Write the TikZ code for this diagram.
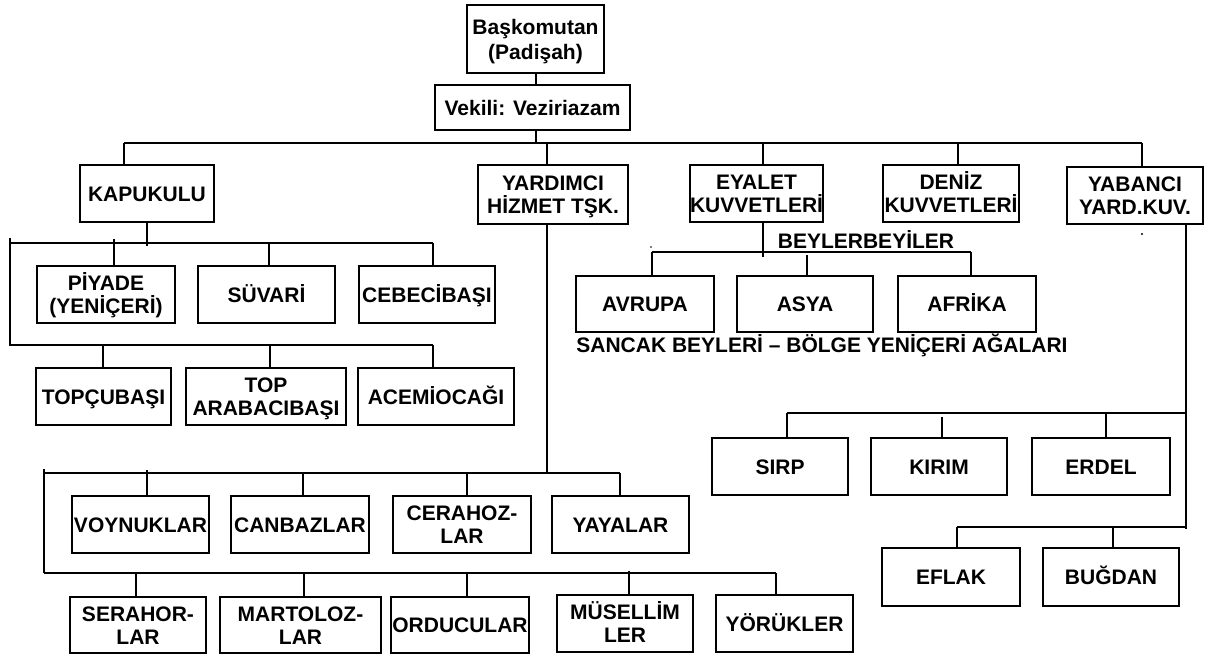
\documentclass[tikz,border=0pt]{standalone}
\usepackage{fontspec}
\setmainfont{Liberation Sans}
\newcommand\mkdrop[4]{\coordinate (#1) at (#2,#3); \draw[ln] (#1) -- (#4.north -| #1);}
\newcommand\one[1]{\rule{0pt}{15pt}\smash{#1}}
\newcommand\two[3][8]{\vbox{\offinterlineskip\halign{\hfil##\hfil\cr\one{#2}\cr\noalign{\vskip #1pt}\one{#3}\cr}}}
\begin{document}
\begin{tikzpicture}[x=1pt,y=-1pt,
  ln/.style={line width=1.5pt},
  bx/.style={draw, line width=1.5pt, inner sep=0pt,
    font=\bfseries\fontsize{21}{23}\selectfont},
  lbl/.style={inner sep=0pt, font=\bfseries\fontsize{21}{23}\selectfont}]
\fill[white] (0,0) rectangle (1213,657);
\useasboundingbox (0,0) rectangle (1213,657);

% top
\node[bx, minimum width=137pt, minimum height=68pt] (bask) at (535.5,39) {\two[10]{Başkomutan}{(Padişah)}};
\node[bx, minimum width=195pt, minimum height=45pt] (vek) at (532.5,107.5) {\one{Vekili: Veziriazam}};
\coordinate (v0) at (536,0);
\draw[ln] (bask.south -| v0) -- (vek.north -| v0);
\coordinate (v1) at (536,143);
\draw[ln] (vek.south -| v1) -- (v1);

% second row
\node[bx, minimum width=134pt, minimum height=57pt] (kapu) at (147,193.5) {\one{KAPUKULU}};
\node[bx, minimum width=150pt, minimum height=59pt] (yard) at (553,194.5) {\two{YARDIMCI}{HİZMET TŞK.}};
\node[bx, minimum width=133pt, minimum height=57pt] (eyal) at (756.5,193.5) {\two{EYALET}{KUVVETLERİ}};
\node[bx, minimum width=136pt, minimum height=57pt] (deniz) at (951,193.5) {\two{DENİZ}{KUVVETLERİ}};
\node[bx, minimum width=136pt, minimum height=57pt] (yab) at (1135,195.5) {\two{YABANCI}{YARD.KUV.}};
\mkdrop{d1}{124}{143}{kapu}
\mkdrop{d2}{547}{143}{yard}
\mkdrop{d3}{763}{143}{eyal}
\mkdrop{d4}{958}{143}{deniz}
\mkdrop{d5}{1142}{143}{yab}
\draw[ln] (d1) -- (d5);

% KAPUKULU subtree
\node[bx, minimum width=138pt, minimum height=57pt] (piy) at (106,294.5) {\two{PİYADE}{(YENİÇERİ)}};
\node[bx, minimum width=137pt, minimum height=57pt] (suv) at (266.5,294.5) {\one{SÜVARİ}};
\node[bx, minimum width=136pt, minimum height=57pt] (ceb) at (427,294.5) {\one{CEBECİBAŞI}};
\node[bx, minimum width=135pt, minimum height=57pt] (topc) at (103.5,396.5) {\one{TOPÇUBAŞI}};
\node[bx, minimum width=160pt, minimum height=57pt] (topa) at (266,396.5) {\two{TOP}{ARABACIBAŞI}};
\node[bx, minimum width=156pt, minimum height=57pt] (acem) at (436,396.5) {\one{ACEMİOCAĞI}};
\coordinate (k0) at (147,246);
\draw[ln] (kapu.south -| k0) -- (k0);
\coordinate (kL) at (10,243); \coordinate (kR) at (433,243);
\coordinate (kLt) at (10,238); \coordinate (kL2) at (10,345); \coordinate (kR2) at (433,345);
\draw[ln] (kL) -- (kR);
\draw[ln] (kLt) -- (kL2) -- (kR2);
\mkdrop{p1}{114}{239}{piy}
\mkdrop{p2}{269}{243}{suv}
\mkdrop{p3}{433}{243}{ceb}
\mkdrop{q1}{103}{345}{topc}
\mkdrop{q2}{270}{345}{topa}
\mkdrop{q3}{433}{345}{acem}

% EYALET subtree
\node[lbl] (beyl) at (866,241) {\one{BEYLERBEYİLER}};
\node[bx, minimum width=138pt, minimum height=56pt] (avr) at (645,304) {\one{AVRUPA}};
\node[bx, minimum width=136pt, minimum height=56pt] (asya) at (805,304) {\one{ASYA}};
\node[bx, minimum width=138pt, minimum height=56pt] (afr) at (967,304) {\one{AFRİKA}};
\node[lbl] (sanc) at (822,345) {\one{SANCAK BEYLERİ – BÖLGE YENİÇERİ AĞALARI}};
\coordinate (e0) at (763,257);
\draw[ln] (eyal.south -| e0) -- (e0);
\mkdrop{a1}{652}{252}{avr}
\mkdrop{a2}{807}{255}{asya}
\mkdrop{a3}{971}{252}{afr}
\draw[ln] (a1) -- (a3);
\fill (1142,234) circle (1.2pt);
\fill (651,247) circle (0.9pt);

% YABANCI subtree
\node[bx, minimum width=136pt, minimum height=57pt] (sirp) at (780,466.5) {\one{SIRP}};
\node[bx, minimum width=136pt, minimum height=57pt] (kirim) at (939,466.5) {\one{KIRIM}};
\node[bx, minimum width=138pt, minimum height=57pt] (erdel) at (1101,466.5) {\one{ERDEL}};
\node[bx, minimum width=138pt, minimum height=58pt] (eflak) at (951,577) {\one{EFLAK}};
\node[bx, minimum width=136pt, minimum height=58pt] (bugd) at (1111,577) {\one{BUĞDAN}};
\coordinate (y0) at (1186,529);
\draw[ln] (yab.south -| y0) -- (y0);
\coordinate (s0) at (1186,413);
\mkdrop{s1}{787}{413}{sirp}
\mkdrop{s2}{942}{417}{kirim}
\mkdrop{s3}{1106}{413}{erdel}
\draw[ln] (s1) -- (s0);
\coordinate (f0) at (1186,527);
\mkdrop{f1}{957}{527}{eflak}
\mkdrop{f2}{1113}{527}{bugd}
\draw[ln] (f1) -- (f0);

% YARDIMCI subtree
\node[bx, minimum width=137pt, minimum height=57pt] (voy) at (140.5,524.5) {\one{VOYNUKLAR}};
\node[bx, minimum width=138pt, minimum height=57pt] (can) at (300,524.5) {\one{CANBAZLAR}};
\node[bx, minimum width=138pt, minimum height=57pt] (cer) at (462,524.5) {\two{CERAHOZ-}{LAR}};
\node[bx, minimum width=137pt, minimum height=57pt] (yaya) at (620.5,524.5) {\one{YAYALAR}};
\node[bx, minimum width=136pt, minimum height=56pt] (sera) at (138,625) {\two{SERAHOR-}{LAR}};
\node[bx, minimum width=161pt, minimum height=56pt] (mart) at (300.5,625) {\two{MARTOLOZ-}{LAR}};
\node[bx, minimum width=138pt, minimum height=56pt] (ordu) at (460,625) {\one{ORDUCULAR}};
\node[bx, minimum width=136pt, minimum height=57pt] (mus) at (625,623.5) {\two{MÜSELLİM}{LER}};
\node[bx, minimum width=137pt, minimum height=57pt] (yor) at (784.5,623.5) {\one{YÖRÜKLER}};
\coordinate (r0) at (547,473);
\draw[ln] (yard.south -| r0) -- (r0);
\coordinate (rL) at (44,473); \coordinate (rLt) at (44,469);
\coordinate (rL2) at (44,573);
\mkdrop{w1}{147}{470}{voy}
\mkdrop{w2}{303}{473}{can}
\mkdrop{w3}{467}{472}{cer}
\mkdrop{w4}{620}{473}{yaya}
\draw[ln] (rL) -- (w4);
\draw[ln] (rLt) -- (rL2);
\mkdrop{z1}{136}{573}{sera}
\mkdrop{z2}{304}{573}{mart}
\mkdrop{z3}{467}{573}{ordu}
\mkdrop{z4}{629}{571}{mus}
\mkdrop{z5}{776}{573}{yor}
\draw[ln] (rL2) -- (z5);
\end{tikzpicture}
\end{document}
